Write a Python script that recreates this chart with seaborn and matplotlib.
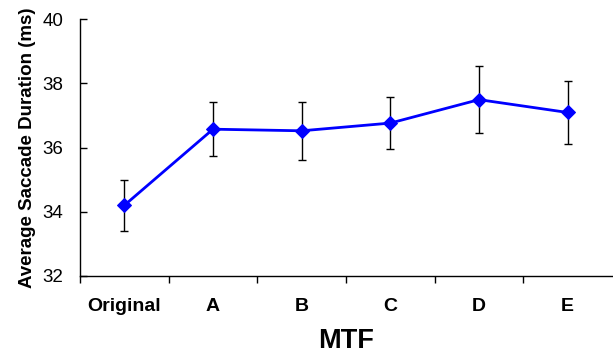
import numpy as np
import pandas as pd
import matplotlib
matplotlib.use("Agg")
import matplotlib.pyplot as plt
from matplotlib.ticker import FixedLocator
import seaborn as sns

# values
conditions = ["Original", "A", "B", "C", "D", "E"]
mean_duration = [34.2, 36.57, 36.52, 36.76, 37.49, 37.09]
error = [0.8, 0.84, 0.91, 0.82, 1.04, 0.99]

df = pd.DataFrame({"MTF": conditions, "duration": mean_duration, "err": error})

sns.set_theme(style="white")
plt.rcParams["font.family"] = ["Liberation Sans", "DejaVu Sans"]
plt.rcParams.update({"text.color": "black", "axes.labelcolor": "black",
                     "xtick.color": "black", "ytick.color": "black"})

fig = plt.figure(figsize=(6.13, 3.58), dpi=100)
ax = fig.add_axes([80 / 613, 1 - 276 / 358, 532 / 613, 257 / 358])

x = np.arange(len(conditions))
ax.errorbar(x, df["duration"], yerr=df["err"], fmt="none", ecolor="black",
            elinewidth=1, capsize=3, capthick=1, zorder=2)
sns.lineplot(data=df, x=x, y="duration", color="#0000ff", marker="D",
             markersize=7, markeredgecolor="#0000ff", linewidth=2,
             ax=ax, zorder=3)

ax.set_xlim(-0.5, 5.5)
ax.set_ylim(32, 40)
ax.set_yticks([32, 34, 36, 38, 40])
ax.set_xticks(x)
ax.set_xticklabels(conditions, fontweight="bold", fontsize=14)
ax.xaxis.set_minor_locator(FixedLocator(np.arange(-0.5, 5.0, 1.0)))
ax.tick_params(axis="x", which="major", length=0, pad=16)
ax.tick_params(axis="x", which="minor", length=5, width=1,
               direction="out", bottom=True)
ax.tick_params(axis="y", length=5, width=1, direction="in",
               left=True, labelsize=13.5, pad=12)

for side in ["top", "right"]:
    ax.spines[side].set_visible(False)
for side in ["left", "bottom"]:
    ax.spines[side].set_color("black")
    ax.spines[side].set_linewidth(1)

ax.set_xlabel("MTF", fontweight="bold", fontsize=19.5, labelpad=9)
ax.set_ylabel("Average Saccade Duration (ms)", fontweight="bold", fontsize=13.5, labelpad=5)

fig.savefig("out.png", dpi=100)
